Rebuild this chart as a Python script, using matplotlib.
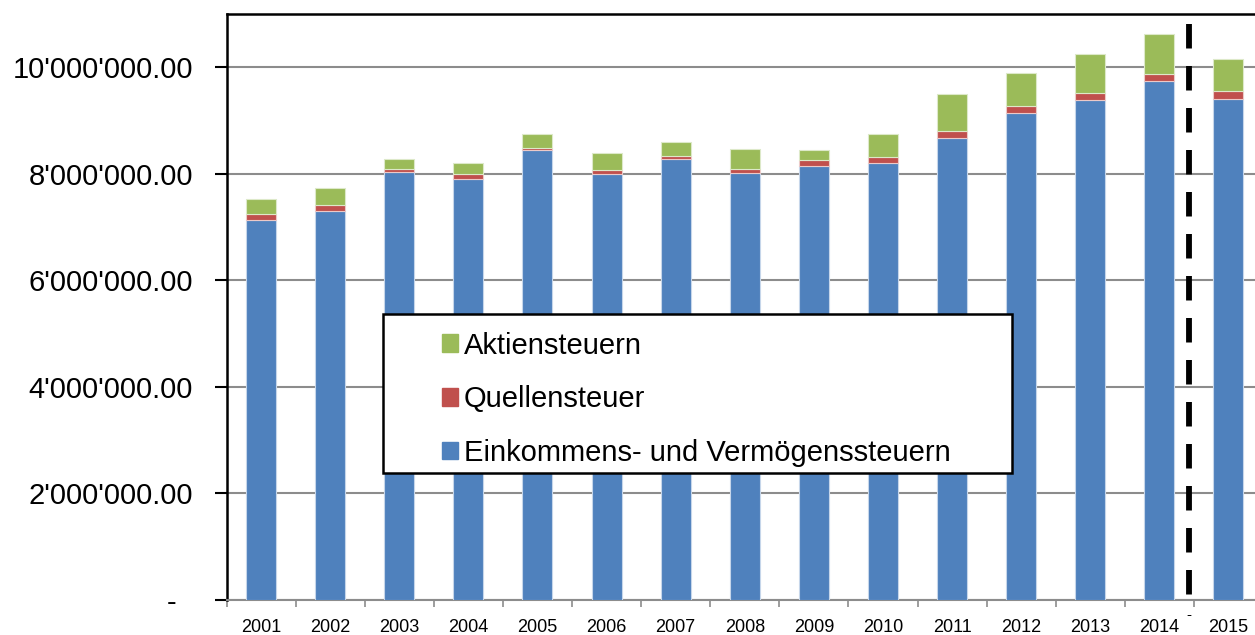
import matplotlib
matplotlib.use("Agg")
import matplotlib.pyplot as plt
from matplotlib.patches import Patch, Rectangle
import numpy as np

plt.rcParams['font.family'] = ['Liberation Sans', 'DejaVu Sans']

# Steuerertrag pro Jahr (CHF)
years = ["2001", "2002", "2003", "2004", "2005", "2006", "2007", "2008",
         "2009", "2010", "2011", "2012", "2013", "2014", "2015"]
einkommen = [7130000, 7300000, 8030000, 7910000, 8440000, 8000000, 8280000, 8020000,
             8150000, 8200000, 8680000, 9140000, 9380000, 9740000, 9410000]
quellen = [120000, 120000, 60000, 80000, 50000, 70000, 60000, 70000,
           110000, 110000, 130000, 130000, 140000, 130000, 140000]
aktien = [280000, 320000, 180000, 210000, 250000, 330000, 250000, 380000,
          190000, 440000, 690000, 620000, 730000, 760000, 600000]

ytick_vals = [0, 2000000, 4000000, 6000000, 8000000, 10000000]
ytick_labels = ["-  ", "2'000'000.00", "4'000'000.00", "6'000'000.00",
                "8'000'000.00", "10'000'000.00"]

# Trennlinie zwischen 2014 und 2015
cut_pos = 13.43
cut_top = 10820000

c_blue = "#4F81BD"
c_red = "#C0504D"
c_green = "#9BBB59"

fig = plt.figure(figsize=(12.55, 6.35), dpi=100)
ax = fig.add_axes([226.5 / 1255, 35 / 635, 1036.5 / 1255, 586 / 635])

x = np.arange(len(years))
w = 0.435
ein = np.array(einkommen)
que = np.array(quellen)
akt = np.array(aktien)
ax.bar(x, ein, w, color=c_blue, edgecolor="#c6d6ea", linewidth=0.8, zorder=3)
ax.bar(x, que, w, bottom=ein, color=c_red, edgecolor="#ecc9c8", linewidth=0.8, zorder=3)
ax.bar(x, akt, w, bottom=ein + que, color=c_green, edgecolor="#dde9c9", linewidth=0.8, zorder=3)

# von oben nach unten zeichnen, damit das Strichmuster oben beginnt
ax.plot([cut_pos, cut_pos], [cut_top, 0], color="black", lw=4.2,
        dashes=(4.2, 3.0), solid_capstyle="butt", dash_capstyle="butt",
        zorder=5, clip_on=False)
ax.text(cut_pos, -290000, "-", ha="center", va="center", fontsize=11)

ax.set_xlim(-0.5, len(years) - 0.5)
ax.set_ylim(0, 11000000)

ax.set_yticks(ytick_vals)
ax.set_yticklabels(ytick_labels, fontsize=21)
ax.tick_params(axis="y", direction="out", length=9, width=1.5, pad=15, color="black")
ax.yaxis.grid(True, color="#8c8c8c", lw=1.5, zorder=0)

ax.set_xticks(x)
ax.set_xticklabels(years, fontsize=13)
ax.set_xticks(np.arange(-0.5, len(years), 1.0), minor=True)
ax.tick_params(axis="x", which="major", length=0, pad=14)
ax.tick_params(axis="x", which="minor", direction="out", length=5, width=1.2, color="#8c8c8c")

ax.spines["left"].set_color("black")
ax.spines["left"].set_linewidth(1.8)
ax.spines["top"].set_color("black")
ax.spines["top"].set_linewidth(1.8)
ax.spines["bottom"].set_color("#8c8c8c")
ax.spines["bottom"].set_linewidth(1.5)
ax.spines["right"].set_visible(False)
ax.set_axisbelow(True)

# Legendenrahmen
ax.add_patch(Rectangle((0.151, 0.2167), 0.607, 0.271, transform=ax.transAxes,
                       facecolor="white", edgecolor="black", lw=1.8, zorder=6))
handles = [Patch(color=c_green), Patch(color=c_red), Patch(color=c_blue)]
labels = ["Aktiensteuern", "Quellensteuer", "Einkommens- und Vermögenssteuern"]
leg = ax.legend(handles, labels, loc="upper left", bbox_to_anchor=(0.1935, 0.483),
                frameon=False, fontsize=21, borderpad=0, handlelength=0.55,
                handleheight=0.55, handletextpad=0.2, labelspacing=0.88)
leg.set_zorder(7)

fig.savefig("out.png", dpi=100)
